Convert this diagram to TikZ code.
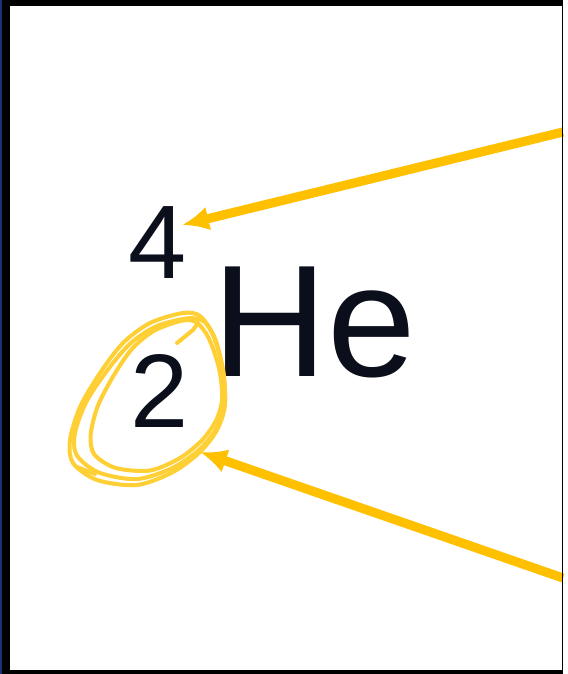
\documentclass[tikz,border=0pt]{standalone}
\usepackage{fontspec}
\setmainfont{Liberation Sans}
\usetikzlibrary{arrows.meta}
\definecolor{Ink}{HTML}{0B0F1C}
\definecolor{Amber}{HTML}{FFC000}
\definecolor{Marker}{HTML}{FFD036}
\definecolor{Edge}{HTML}{1B3275}
\tikzset{
  pointer/.style={Amber,line width=5.2pt,-{Latex[length=15.3pt,width=13.8pt]}},
  scribble/.style={Marker,line width=2.3pt,line cap=round,line join=round},
  digit/.style={Ink,inner sep=0pt,font=\fontsize{59.5}{60}\selectfont},
  symbol/.style={Ink,inner sep=0pt,font=\fontsize{90.7}{92}\selectfont},
}
\newcommand\eggloop{plot[smooth cycle] coordinates {
  (36,-87) (53,-84) (66,-65) (76,-30) (78,5) (70,30) (53,52) (26,72)
  (-10,85) (-50,80) (-74,63) (-77,40) (-67,7) (-47,-27) (-24,-57)
  (3,-77)}}
\begin{document}
\begin{tikzpicture}[x=0.02cm,y=-0.02cm]
\fill[white] (0,0) rectangle (563,674);
% Nuclide symbol.
\node[digit] (mass) at (158,243) {4};
\node[digit] (atomic) at (160,391) {2};
\node[symbol] (elem) at (314,322) {He};

% Hand-drawn ring round the atomic number.
\draw[scribble,shift={(147,400)}] \eggloop;
\draw[scribble,shift={(155,397)},scale=0.86,rotate=3] \eggloop;
\draw[scribble,shift={(150,399)},scale=0.95,rotate=-3] \eggloop;
\draw[scribble] (177,343) -- (193,330) -- (198,323);
\draw[scribble] (95,474) -- (77,467);

% Pointers coming in from the right.
\coordinate (topsrc) at (563,132);
\coordinate (masstip) at (182,225);
\coordinate (botsrc) at (563,578);
\coordinate (ringtip) at (200,452);
\draw[pointer] (topsrc) -- (masstip);
\draw[pointer] (botsrc) -- (ringtip);

% Frame.
\fill[black] (0,0) rectangle (563,6);
\fill[black] (0,0) rectangle (10,674);
\fill[black] (561.5,0) rectangle (563,674);
\fill[black] (0,670) rectangle (563,674);
\fill[Edge] (0,0) rectangle (2,674);
\end{tikzpicture}
\end{document}
